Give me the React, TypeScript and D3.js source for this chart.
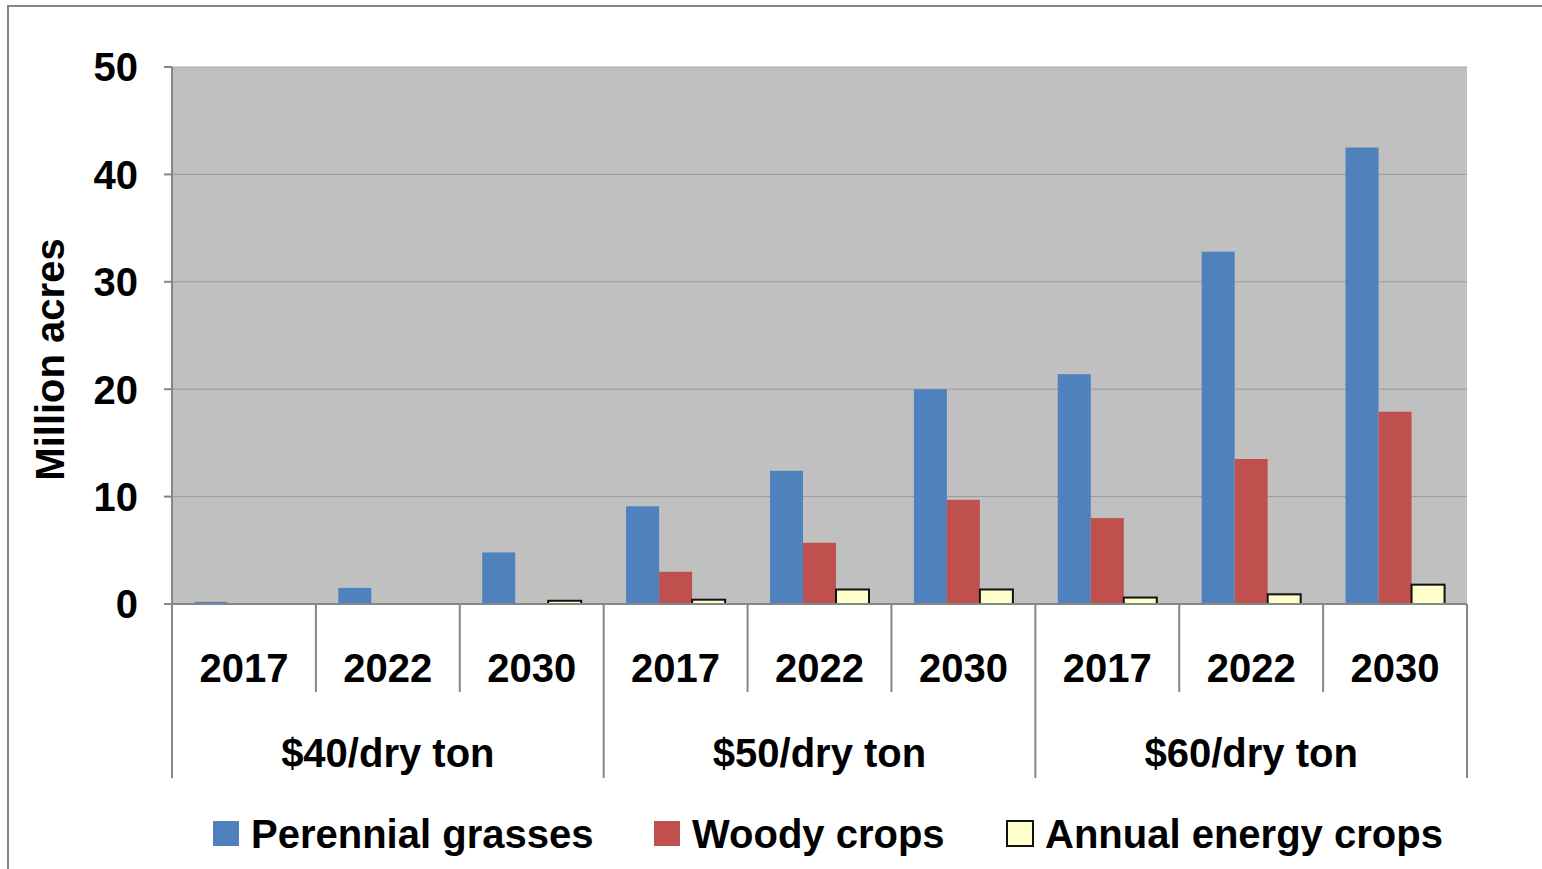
import React, { useEffect, useRef } from "react";
import * as d3 from "d3";

const prices = ["$40/dry ton", "$50/dry ton", "$60/dry ton"];
const years = ["2017", "2022", "2030"];
const seriesNames = ["Perennial grasses", "Woody crops", "Annual energy crops"];
const seriesColors = ["#4f81bd", "#c0504d", "#ffffcc"];
// values per (price, year) in order
const perennial = [0.2, 1.5, 4.8, 9.1, 12.4, 20.0, 21.4, 32.8, 42.5];
const woody = [0, 0, 0, 3.0, 5.7, 9.7, 8.0, 13.5, 17.9];
const annual = [0, 0, 0.3, 0.4, 1.35, 1.35, 0.6, 0.9, 1.8];
const yTicks = [0, 10, 20, 30, 40, 50];

const FONT = "Arial, 'Liberation Sans', sans-serif";
const FS = 40;

export default function App() {
  const svgRef = useRef<SVGSVGElement>(null);

  useEffect(() => {
    const svg = d3.select(svgRef.current);
    svg.selectAll("*").remove();
    const width = 1542;
    const height = 869;
    const plot = { left: 172, right: 1467, top: 67, bottom: 604 };

    // outer frame
    svg
      .append("rect")
      .attr("x", 8)
      .attr("y", 6)
      .attr("width", width + 20)
      .attr("height", height + 20)
      .attr("fill", "white")
      .attr("stroke", "#868686")
      .attr("stroke-width", 2);

    const cats = prices.flatMap((p) => years.map((yr) => `${p}|${yr}`));
    const x0 = d3.scaleBand().domain(cats).range([plot.left, plot.right]).padding(0);
    const x1 = d3
      .scaleBand()
      .domain(seriesNames)
      .range([0, x0.bandwidth()])
      .paddingInner(0)
      .paddingOuter(0.68);
    const y = d3.scaleLinear().domain([0, 50]).range([plot.bottom, plot.top]);

    svg
      .append("rect")
      .attr("x", plot.left)
      .attr("y", plot.top)
      .attr("width", plot.right - plot.left)
      .attr("height", plot.bottom - plot.top)
      .attr("fill", "#c0c0c0");

    // gridlines
    svg
      .append("g")
      .selectAll("line")
      .data(yTicks.filter((t) => t > 0))
      .join("line")
      .attr("x1", plot.left)
      .attr("x2", plot.right)
      .attr("y1", (d) => y(d))
      .attr("y2", (d) => y(d))
      .attr("stroke", (t) => (t === 50 ? "#a8a8a8" : "#9a9a9a"))
      .attr("stroke-width", 1);

    const data = [perennial, woody, annual];
    const g = svg.append("g");
    data.forEach((vals, si) => {
      g.selectAll(`rect.s${si}`)
        .data(vals)
        .join("rect")
        .attr("class", `s${si}`)
        .attr("x", (_, i) => x0(cats[i])! + x1(seriesNames[si])!)
        .attr("width", x1.bandwidth())
        .attr("y", (d) => y(d))
        .attr("height", (d) => y(0) - y(d))
        .attr("fill", seriesColors[si])
        .attr("stroke", si === 2 ? "#111" : "none")
        .attr("stroke-width", si === 2 ? 2 : 0)
        .style("display", (d) => (d > 0 ? null : "none"));
    });

    const axisColor = "#868686";
    // y axis
    svg
      .append("line")
      .attr("x1", plot.left)
      .attr("x2", plot.left)
      .attr("y1", plot.top)
      .attr("y2", 778)
      .attr("stroke", axisColor)
      .attr("stroke-width", 2);
    const yt = svg.append("g");
    yt.selectAll("line")
      .data(yTicks)
      .join("line")
      .attr("x1", plot.left - 8)
      .attr("x2", plot.left)
      .attr("y1", (d) => y(d))
      .attr("y2", (d) => y(d))
      .attr("stroke", axisColor)
      .attr("stroke-width", 2);
    yt.selectAll("text")
      .data(yTicks)
      .join("text")
      .attr("x", 138)
      .attr("y", (d) => y(d))
      .attr("dy", "0.36em")
      .attr("text-anchor", "end")
      .attr("font-family", FONT)
      .attr("font-weight", "bold")
      .attr("font-size", FS)
      .text((d) => d);

    svg
      .append("text")
      .attr("transform", `translate(64,${(plot.top + plot.bottom) / 2 + 24}) rotate(-90)`)
      .attr("text-anchor", "middle")
      .attr("font-family", FONT)
      .attr("font-weight", "bold")
      .attr("font-size", FS)
      .text("Million acres");

    // x axis
    svg
      .append("line")
      .attr("x1", plot.left - 8)
      .attr("x2", plot.right)
      .attr("y1", plot.bottom)
      .attr("y2", plot.bottom)
      .attr("stroke", axisColor)
      .attr("stroke-width", 2);

    const xa = svg.append("g");
    cats.forEach((c, i) => {
      const bx = x0(c)! + x0.bandwidth();
      const isGroupEnd = (i + 1) % years.length === 0;
      xa.append("line")
        .attr("x1", bx)
        .attr("x2", bx)
        .attr("y1", plot.bottom)
        .attr("y2", isGroupEnd ? 778 : 692)
        .attr("stroke", axisColor)
        .attr("stroke-width", 2);
      xa.append("text")
        .attr("x", x0(c)! + x0.bandwidth() / 2)
        .attr("y", 682)
        .attr("text-anchor", "middle")
        .attr("font-family", FONT)
        .attr("font-weight", "bold")
        .attr("font-size", FS)
        .text(c.split("|")[1]);
    });
    prices.forEach((p) => {
      const first = x0(`${p}|${years[0]}`)!;
      const last = x0(`${p}|${years[years.length - 1]}`)! + x0.bandwidth();
      xa.append("text")
        .attr("x", (first + last) / 2)
        .attr("y", 767)
        .attr("text-anchor", "middle")
        .attr("font-family", FONT)
        .attr("font-weight", "bold")
        .attr("font-size", FS)
        .text(p);
    });

    // legend
    const legendX = [213, 654, 1007];
    const lg = svg.append("g");
    seriesNames.forEach((name, i) => {
      lg.append("rect")
        .attr("x", legendX[i])
        .attr("y", 821)
        .attr("width", 26)
        .attr("height", 25)
        .attr("fill", seriesColors[i])
        .attr("stroke", i === 2 ? "#111" : "none")
        .attr("stroke-width", i === 2 ? 2 : 0);
      lg.append("text")
        .attr("x", legendX[i] + 38)
        .attr("y", 848)
        .attr("font-family", FONT)
        .attr("font-weight", "bold")
        .attr("font-size", FS)
        .text(name);
    });
  }, []);

  return (
    <svg
      ref={svgRef}
      width={1542}
      height={869}
      style={{ position: "absolute", left: 0, top: 0, background: "white" }}
    ></svg>
  );
}
